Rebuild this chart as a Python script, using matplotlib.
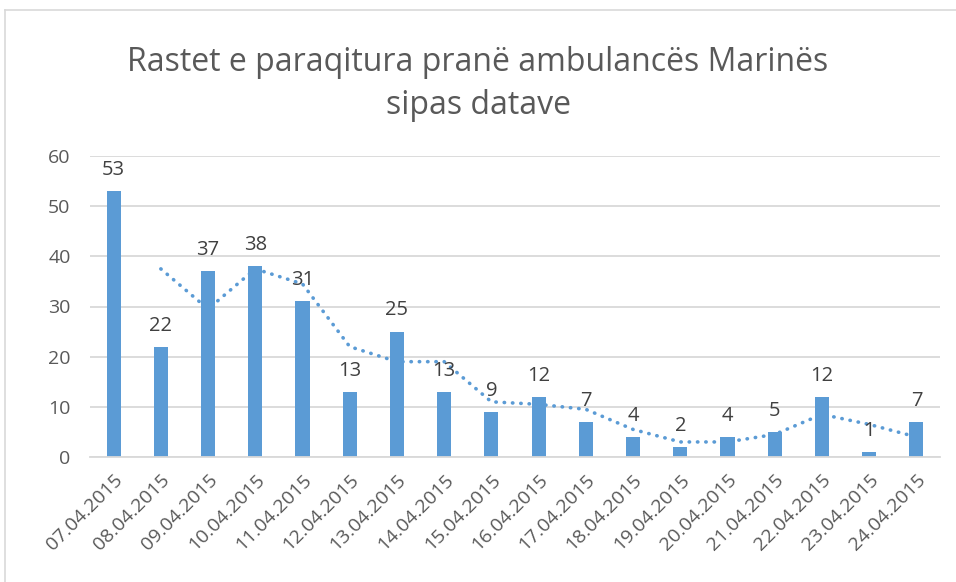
import numpy as np
import pandas as pd
import matplotlib.pyplot as plt
from matplotlib.lines import Line2D

dates = ["07.04.2015", "08.04.2015", "09.04.2015", "10.04.2015", "11.04.2015",
         "12.04.2015", "13.04.2015", "14.04.2015", "15.04.2015", "16.04.2015",
         "17.04.2015", "18.04.2015", "19.04.2015", "20.04.2015", "21.04.2015",
         "22.04.2015", "23.04.2015", "24.04.2015"]
cases = [53, 22, 37, 38, 31, 13, 25, 13, 9, 12, 7, 4, 2, 4, 5, 12, 1, 7]

title = "Rastet e paraqitura pranë ambulancës Marinës\nsipas datave"

plt.rcParams["font.family"] = ["Open Sans", "DejaVu Sans"]
bar_color = "#5B9BD5"
text_color = "#595959"

fig = plt.figure(figsize=(9.56, 5.82), dpi=100)
ax = fig.add_axes([90 / 956, 1 - 457 / 582, 850 / 956, 301 / 582])

x = np.arange(len(cases))
ax.bar(x, cases, width=0.3, color=bar_color, zorder=2)

# 2-period moving average trendline
trend = pd.Series(cases).rolling(2).mean()
ax.plot(x, trend, linestyle=(0, (0.1, 2.2)), dash_capstyle="round",
        color=bar_color, linewidth=2.6, zorder=3)

for xi, v in zip(x, cases):
    ax.annotate(str(v), (xi, v), xytext=(0, 8), textcoords="offset points",
                ha="center", va="bottom", fontsize=14.5, color="#404040")

ax.set_xlim(-0.5, len(cases) - 0.5)
ax.set_ylim(0, 60)
ax.set_yticks(range(0, 61, 10))
ax.yaxis.grid(True, color="#D9D9D9", linewidth=1.3, zorder=0)
ax.set_axisbelow(True)
for s in ["top", "right", "left"]:
    ax.spines[s].set_visible(False)
ax.spines["bottom"].set_color("#D9D9D9")
ax.spines["bottom"].set_linewidth(1.3)
ax.tick_params(axis="both", length=0, labelsize=14, labelcolor=text_color)
ax.tick_params(axis="y", pad=14)
ax.set_xticks(x)
ax.set_xticklabels(dates, rotation=45, ha="right", rotation_mode="anchor")
ax.tick_params(axis="x", pad=10)

fig.suptitle(title, y=1 - 46 / 582, fontsize=23, color=text_color,
             linespacing=1.4, va="top")

# chart frame (top and left edges visible)
fig.add_artist(Line2D([5 / 956, 5 / 956], [0, 1 - 10 / 582],
                      transform=fig.transFigure, color="#D9D9D9", linewidth=1.2))
fig.add_artist(Line2D([5 / 956, 1], [1 - 10 / 582, 1 - 10 / 582],
                      transform=fig.transFigure, color="#D9D9D9", linewidth=1.2))

fig.savefig("out.png", dpi=100)
